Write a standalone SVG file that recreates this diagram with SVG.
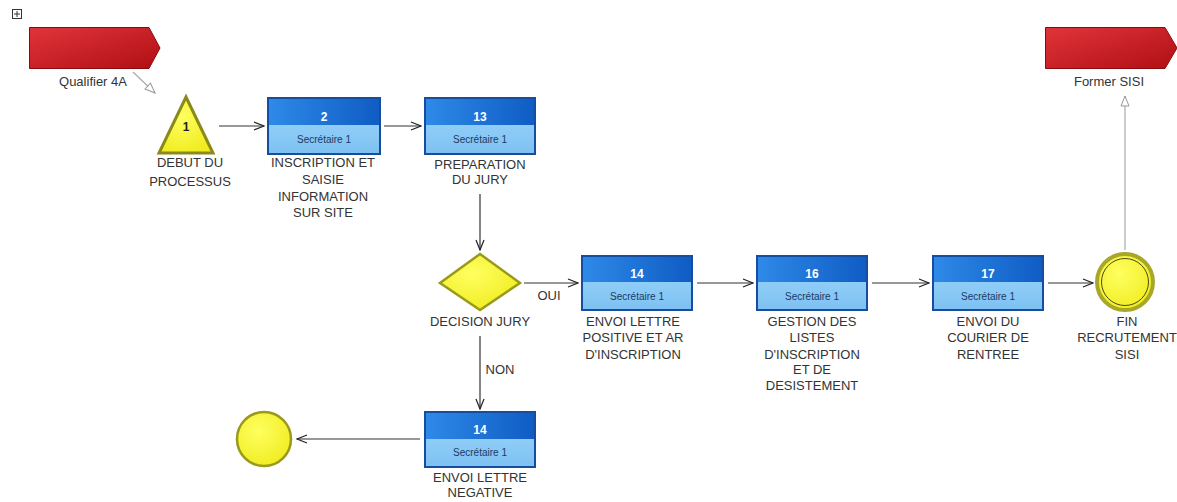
<svg xmlns="http://www.w3.org/2000/svg" width="1177" height="502" viewBox="0 0 1177 502">
<defs>
<linearGradient id="red" x1="0" y1="0" x2="1" y2="1">
<stop offset="0" stop-color="#e0343a"/>
<stop offset="1" stop-color="#b00f14"/>
</linearGradient>
<linearGradient id="hdr" x1="0" y1="0" x2="1" y2="0">
<stop offset="0" stop-color="#2e8ae8"/>
<stop offset="1" stop-color="#0f5cc4"/>
</linearGradient>
<linearGradient id="lo" x1="0" y1="0" x2="0" y2="1">
<stop offset="0" stop-color="#8fcdf7"/>
<stop offset="1" stop-color="#7dc1f2"/>
</linearGradient>
<radialGradient id="yel" cx="0.4" cy="0.35" r="0.7">
<stop offset="0" stop-color="#ffff60"/>
<stop offset="1" stop-color="#f0ec20"/>
</radialGradient>
<marker id="ah" markerWidth="12" markerHeight="10" refX="11" refY="5" orient="auto" markerUnits="userSpaceOnUse">
<path d="M1,1 L11,5 L1,9" fill="none" stroke="#222" stroke-width="1.2"/>
</marker>
<marker id="gh" markerWidth="12" markerHeight="10" refX="11" refY="5" orient="auto" markerUnits="userSpaceOnUse">
<path d="M1,1 L11,5 L1,9 Z" fill="#fff" stroke="#999" stroke-width="1"/>
</marker>
</defs>
<style>
text{font-family:"Liberation Sans",Arial,sans-serif;}
.lbl{font-size:13px;fill:#333;text-anchor:middle;}
.num{font-size:12px;font-weight:bold;fill:#fff;text-anchor:middle;}
.sec{font-size:10px;fill:#1b3a66;text-anchor:middle;}
.box{stroke:#174d9e;stroke-width:2;}
.conn{stroke:#333;stroke-width:1.2;fill:none;}
.gconn{stroke:#aaa;stroke-width:1.2;fill:none;}
.red{fill:url(#red);stroke:#8a0a0e;stroke-width:1;}
</style>
<rect x="0" y="0" width="1177" height="502" fill="#fff"/>

<g id="expand">
<rect x="12.5" y="9.5" width="9" height="9" fill="#fff" stroke="#333" stroke-width="1"/>
<path d="M17,11 V17 M14,14 H20" stroke="#333" stroke-width="1"/>
</g>

<g id="connectors">
<path class="gconn" d="M133,72 L155,93" marker-end="url(#gh)"/>
<path class="conn" d="M219,126 L264,126" marker-end="url(#ah)"/>
<path class="conn" d="M384,126 L421,126" marker-end="url(#ah)"/>
<path class="conn" d="M480,194 L480,250" marker-end="url(#ah)"/>
<path class="conn" d="M524,283 L578,283" marker-end="url(#ah)"/>
<path class="conn" d="M697,283 L753,283" marker-end="url(#ah)"/>
<path class="conn" d="M872,283 L929,283" marker-end="url(#ah)"/>
<path class="conn" d="M1048,283 L1093,283" marker-end="url(#ah)"/>
<path class="gconn" d="M1125,250 L1125,96" marker-end="url(#gh)"/>
<path class="conn" d="M480,336 L480,409" marker-end="url(#ah)"/>
<path class="conn" d="M420,439 L297,439" marker-end="url(#ah)"/>
<text class="lbl" x="549" y="300">OUI</text>
<text class="lbl" x="500" y="374">NON</text>
</g>

<g id="qualifier">
<path class="red" d="M29.5,27.5 H149 L160,48 L149,68.5 H29.5 Z"/>
<text class="lbl" x="93" y="86">Qualifier 4A</text>
</g>

<g id="former">
<path class="red" d="M1045.5,27.5 H1165 L1177,48 L1165,68.5 H1045.5 Z"/>
<text class="lbl" x="1109" y="86">Former SISI</text>
</g>

<g id="n1">
<path d="M186,97 L213,153 L159,153 Z" fill="url(#yel)" stroke="#8a8a1a" stroke-width="3"/>
<text x="186" y="131" font-size="12" font-weight="bold" fill="#222" text-anchor="middle">1</text>
<text class="lbl" x="190" y="167">DEBUT DU</text>
<text class="lbl" x="190" y="186">PROCESSUS</text>
</g>

<g id="n2">
<rect x="268" y="98" width="112" height="27" fill="url(#hdr)"/>
<rect x="268" y="125" width="112" height="29" fill="url(#lo)"/>
<rect class="box" x="268" y="98" width="112" height="56" fill="none"/>
<text class="num" x="324" y="121">2</text>
<text class="sec" x="324" y="143">Secrétaire 1</text>
<text class="lbl" x="323" y="167">INSCRIPTION ET</text>
<text class="lbl" x="323" y="184">SAISIE</text>
<text class="lbl" x="323" y="201">INFORMATION</text>
<text class="lbl" x="323" y="217">SUR SITE</text>
</g>

<g id="n13">
<rect x="425" y="98" width="110" height="27" fill="url(#hdr)"/>
<rect x="425" y="125" width="110" height="29" fill="url(#lo)"/>
<rect class="box" x="425" y="98" width="110" height="56" fill="none"/>
<text class="num" x="480" y="121">13</text>
<text class="sec" x="480" y="143">Secrétaire 1</text>
<text class="lbl" x="480" y="169">PREPARATION</text>
<text class="lbl" x="480" y="184">DU JURY</text>
</g>

<g id="decision">
<path d="M480,254 L520,283 L480,310 L440,283 Z" fill="url(#yel)" stroke="#9a9a1a" stroke-width="2.5"/>
<text class="lbl" x="480" y="326">DECISION JURY</text>
</g>

<g id="n14a">
<rect x="582" y="256" width="110" height="26" fill="url(#hdr)"/>
<rect x="582" y="282" width="110" height="28" fill="url(#lo)"/>
<rect class="box" x="582" y="256" width="110" height="54" fill="none"/>
<text class="num" x="637" y="278">14</text>
<text class="sec" x="637" y="300">Secrétaire 1</text>
<text class="lbl" x="633" y="326">ENVOI LETTRE</text>
<text class="lbl" x="633" y="342">POSITIVE ET AR</text>
<text class="lbl" x="633" y="359">D'INSCRIPTION</text>
</g>

<g id="n16">
<rect x="757" y="256" width="110" height="26" fill="url(#hdr)"/>
<rect x="757" y="282" width="110" height="28" fill="url(#lo)"/>
<rect class="box" x="757" y="256" width="110" height="54" fill="none"/>
<text class="num" x="812" y="278">16</text>
<text class="sec" x="812" y="300">Secrétaire 1</text>
<text class="lbl" x="812" y="326">GESTION DES</text>
<text class="lbl" x="812" y="342">LISTES</text>
<text class="lbl" x="812" y="359">D'INSCRIPTION</text>
<text class="lbl" x="812" y="374">ET DE</text>
<text class="lbl" x="812" y="390">DESISTEMENT</text>
</g>

<g id="n17">
<rect x="933" y="256" width="110" height="26" fill="url(#hdr)"/>
<rect x="933" y="282" width="110" height="28" fill="url(#lo)"/>
<rect class="box" x="933" y="256" width="110" height="54" fill="none"/>
<text class="num" x="988" y="278">17</text>
<text class="sec" x="988" y="300">Secrétaire 1</text>
<text class="lbl" x="988" y="326">ENVOI DU</text>
<text class="lbl" x="988" y="342">COURIER DE</text>
<text class="lbl" x="988" y="359">RENTREE</text>
</g>

<g id="fin">
<circle cx="1125" cy="282" r="28" fill="url(#yel)" stroke="#a8a828" stroke-width="4"/>
<circle cx="1125" cy="282" r="23.5" fill="none" stroke="#4a4a10" stroke-width="1"/>
<text class="lbl" x="1127" y="326">FIN</text>
<text class="lbl" x="1127" y="342">RECRUTEMENT</text>
<text class="lbl" x="1127" y="359">SISI</text>
</g>

<g id="n14b">
<rect x="425" y="412" width="110" height="27" fill="url(#hdr)"/>
<rect x="425" y="439" width="110" height="28" fill="url(#lo)"/>
<rect class="box" x="425" y="412" width="110" height="55" fill="none"/>
<text class="num" x="480" y="434">14</text>
<text class="sec" x="480" y="456">Secrétaire 1</text>
<text class="lbl" x="480" y="482">ENVOI LETTRE</text>
<text class="lbl" x="480" y="497">NEGATIVE</text>
</g>

<g id="end2">
<circle cx="264" cy="439" r="27" fill="url(#yel)" stroke="#9a9a1a" stroke-width="2.5"/>
</g>
</svg>
